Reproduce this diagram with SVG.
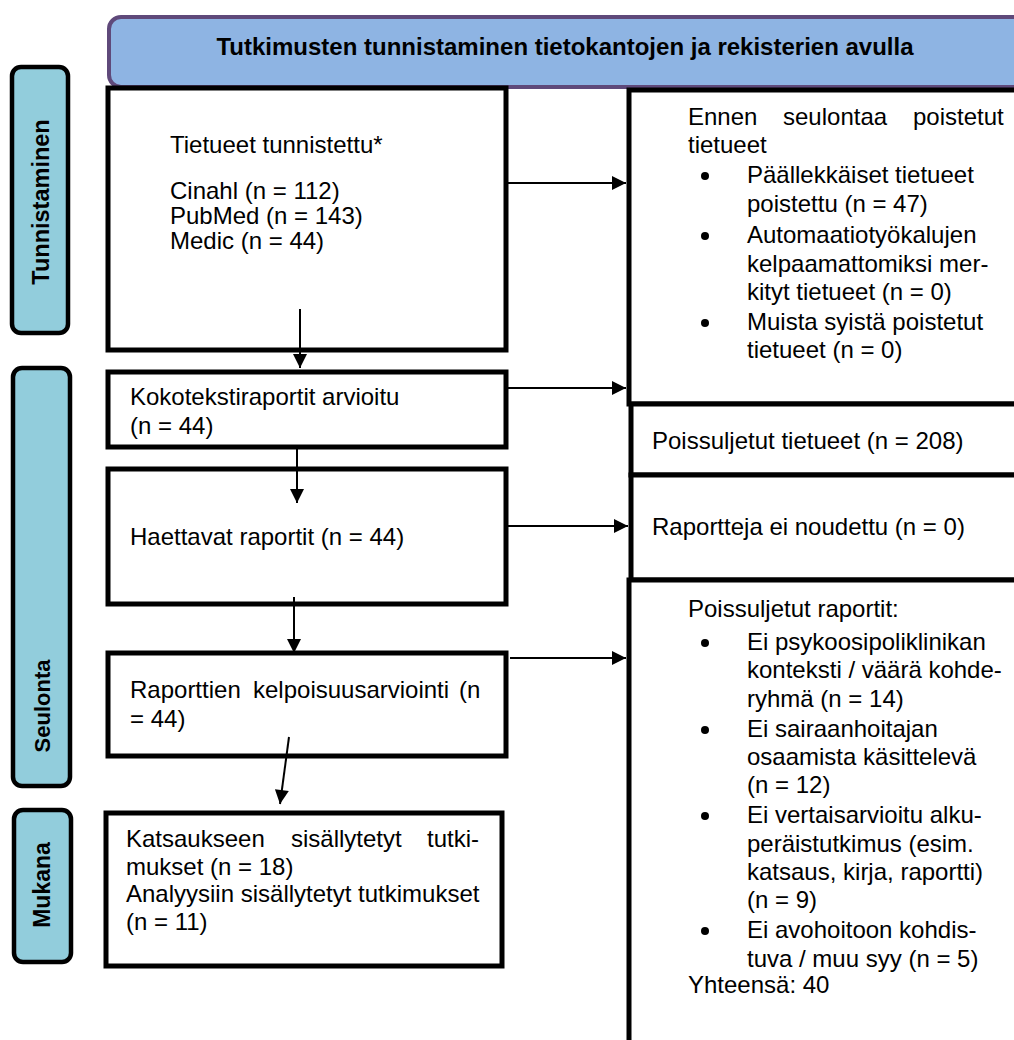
<svg xmlns="http://www.w3.org/2000/svg" width="1014" height="1040" viewBox="0 0 1014 1040">
<defs>
<style>
.t{font-family:"Liberation Sans",Arial,sans-serif;font-size:24px;fill:#000}
.b{font-family:"Liberation Sans",Arial,sans-serif;font-weight:bold;fill:#000}
.box{fill:#fff;stroke:#000;stroke-width:5}
.side{fill:#92cddc;stroke:#000;stroke-width:4.5}
.con{stroke:#000;stroke-width:2;fill:none}
</style>
<marker id="ah" viewBox="0 0 10 10" refX="10" refY="5" markerWidth="15" markerHeight="14" markerUnits="userSpaceOnUse" orient="auto">
<path d="M0,0 L10,5 L0,10 z" fill="#000"/>
</marker>
</defs>
<rect width="1014" height="1040" fill="#fff"/>

<g id="banner">
<rect x="109" y="17" width="930" height="70" rx="12" fill="#8eb4e3" stroke="#5f497a" stroke-width="4"/>
<text class="b" x="565" y="55" font-size="24" text-anchor="middle">Tutkimusten tunnistaminen tietokantojen ja rekisterien avulla</text>
</g>

<g id="label-tunnistaminen">
<rect class="side" x="12" y="67" width="56" height="266" rx="9"/>
<text class="b" font-size="23.5" text-anchor="middle" transform="translate(49,202) rotate(-90)">Tunnistaminen</text>
</g>
<g id="label-seulonta">
<rect class="side" x="13" y="368" width="57" height="418" rx="9"/>
<text class="b" font-size="22" text-anchor="middle" transform="translate(50,706) rotate(-90)">Seulonta</text>
</g>
<g id="label-mukana">
<rect class="side" x="14" y="810" width="57" height="152" rx="9"/>
<text class="b" font-size="23" text-anchor="middle" transform="translate(50,885) rotate(-90)">Mukana</text>
</g>

<g id="box-tunnistettu">
<rect class="box" x="108" y="88" width="398" height="262"/>
<text class="t" x="170" y="153">Tietueet tunnistettu*</text>
<text class="t" x="170" y="199">Cinahl (n = 112)</text>
<text class="t" x="170" y="224">PubMed (n = 143)</text>
<text class="t" x="170" y="249">Medic (n = 44)</text>
</g>

<g id="box-kokoteksti">
<rect class="box" x="108" y="372" width="398" height="75"/>
<text class="t" x="130" y="405">Kokotekstiraportit arvioitu</text>
<text class="t" x="130" y="434">(n = 44)</text>
</g>

<g id="box-haettavat">
<rect class="box" x="108" y="469" width="398" height="135"/>
<text class="t" x="130" y="545">Haettavat raportit (n = 44)</text>
</g>

<g id="box-kelpoisuus">
<rect class="box" x="108" y="653" width="398" height="103"/>
<text class="t" y="698"><tspan x="130">Raporttien</tspan><tspan x="253">kelpoisuusarviointi</tspan><tspan x="459">(n</tspan></text>
<text class="t" x="130" y="727">= 44)</text>
</g>

<g id="box-mukana">
<rect class="box" x="106" y="813" width="396" height="153"/>
<text class="t" y="847"><tspan x="126">Katsaukseen</tspan><tspan x="291">sisällytetyt</tspan><tspan x="427">tutki-</tspan></text>
<text class="t" x="126" y="875">mukset (n = 18)</text>
<text class="t" x="126" y="902">Analyysiin sisällytetyt tutkimukset</text>
<text class="t" x="126" y="930">(n = 11)</text>
</g>

<g id="box-ennen-seulontaa">
<rect class="box" x="629" y="90" width="420" height="314"/>
<text class="t" y="125"><tspan x="688">Ennen</tspan><tspan x="783">seulontaa</tspan><tspan x="913">poistetut</tspan></text>
<text class="t" x="688" y="153">tietueet</text>
<circle cx="705" cy="176" r="4"/>
<text class="t" x="747" y="183">Päällekkäiset tietueet</text>
<text class="t" x="747" y="212">poistettu (n = 47)</text>
<circle cx="705" cy="236" r="4"/>
<text class="t" x="747" y="243">Automaatiotyökalujen</text>
<text class="t" x="747" y="272">kelpaamattomiksi mer-</text>
<text class="t" x="747" y="300">kityt tietueet (n = 0)</text>
<circle cx="705" cy="323" r="4"/>
<text class="t" x="747" y="330">Muista syistä poistetut</text>
<text class="t" x="747" y="358">tietueet (n = 0)</text>
</g>

<g id="box-poissuljetut-tietueet">
<rect class="box" x="631" y="404" width="420" height="71"/>
<text class="t" x="652" y="449">Poissuljetut tietueet (n = 208)</text>
</g>

<g id="box-ei-noudettu">
<rect class="box" x="631" y="475" width="420" height="105"/>
<text class="t" x="652" y="535">Raportteja ei noudettu (n = 0)</text>
</g>

<g id="box-poissuljetut-raportit">
<rect class="box" x="629" y="580" width="420" height="500"/>
<text class="t" x="688" y="617">Poissuljetut raportit:</text>
<circle cx="705" cy="643" r="4"/>
<text class="t" x="747" y="650">Ei psykoosipoliklinikan</text>
<text class="t" x="747" y="678">konteksti / väärä kohde-</text>
<text class="t" x="747" y="707">ryhmä (n = 14)</text>
<circle cx="705" cy="730" r="4"/>
<text class="t" x="747" y="737">Ei sairaanhoitajan</text>
<text class="t" x="747" y="765">osaamista käsittelevä</text>
<text class="t" x="747" y="793">(n = 12)</text>
<circle cx="705" cy="816" r="4"/>
<text class="t" x="747" y="823">Ei vertaisarvioitu alku-</text>
<text class="t" x="747" y="852">peräistutkimus (esim.</text>
<text class="t" x="747" y="880">katsaus, kirja, raportti)</text>
<text class="t" x="747" y="908">(n = 9)</text>
<circle cx="705" cy="931" r="4"/>
<text class="t" x="747" y="938">Ei avohoitoon kohdis-</text>
<text class="t" x="747" y="967">tuva / muu syy (n = 5)</text>
<text class="t" x="688" y="993">Yhteensä: 40</text>
</g>

<g id="connectors">
<line class="con" x1="508" y1="183" x2="626" y2="183" marker-end="url(#ah)"/>
<line class="con" x1="508" y1="388" x2="626" y2="388" marker-end="url(#ah)"/>
<line class="con" x1="508" y1="526" x2="628" y2="526" marker-end="url(#ah)"/>
<line class="con" x1="510" y1="658" x2="626" y2="658" marker-end="url(#ah)"/>
<line class="con" x1="300" y1="309" x2="300" y2="368" marker-end="url(#ah)"/>
<line class="con" x1="297" y1="449" x2="297" y2="503" marker-end="url(#ah)"/>
<line class="con" x1="294" y1="597" x2="294" y2="653" marker-end="url(#ah)"/>
<line class="con" x1="289" y1="737" x2="280" y2="804" marker-end="url(#ah)"/>
</g>
</svg>
